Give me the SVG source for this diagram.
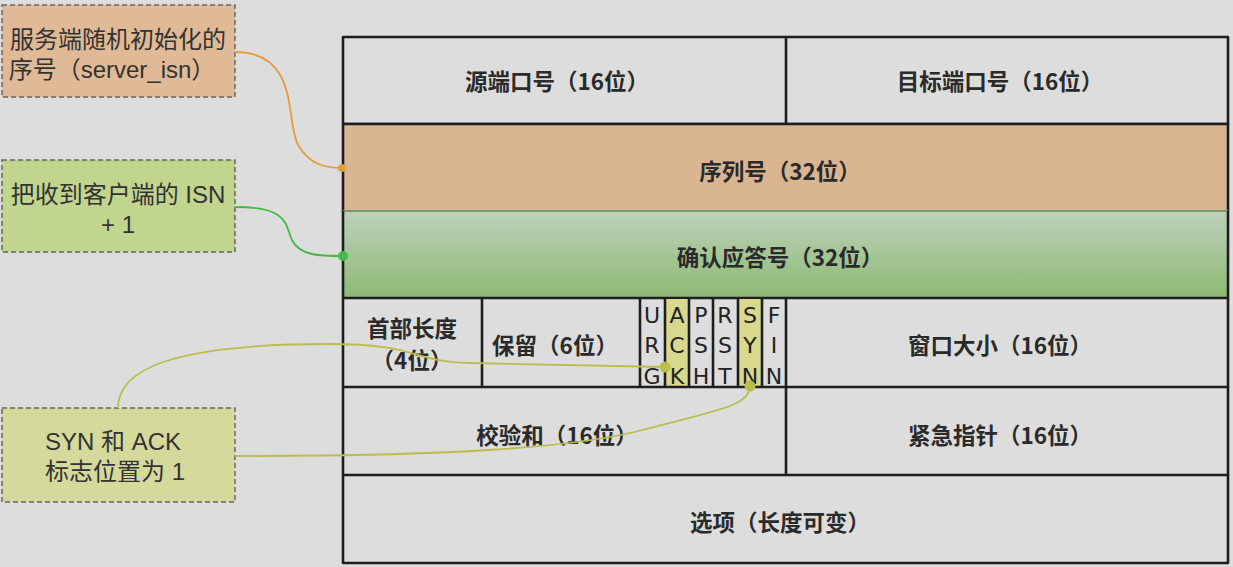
<svg xmlns="http://www.w3.org/2000/svg" width="1233" height="567" viewBox="0 0 1233 567">
<defs>
<linearGradient id="gAck" x1="0" y1="0" x2="0" y2="1">
<stop offset="0" stop-color="#bed1bb"/>
<stop offset="1" stop-color="#8cb973"/>
</linearGradient>
<style>
.cell{stroke:#1e1e1e;stroke-width:2.6;fill:none;stroke-linejoin:round}
.t{font-family:"Noto Sans CJK SC","Noto Sans",sans-serif;font-weight:bold;font-size:22.5px;fill:#2a2a2a;text-anchor:middle}
.n{font-family:"Liberation Sans","Noto Sans CJK SC",sans-serif;font-size:24px;fill:#333;text-anchor:middle}
.f{font-family:"DejaVu Sans",sans-serif;font-size:22px;fill:#222;text-anchor:middle}
.note{stroke:#666;stroke-width:1.5;stroke-dasharray:5 3}
.con{fill:none;stroke-width:1.8}
</style>
</defs>
<rect width="1233" height="567" fill="#dddddd"/>

<g id="row-ports">
<path class="cell" d="M343,37 L1228,37 L1228,124 L343,124 Z"/>
<line class="cell" x1="786" y1="37" x2="786" y2="124"/>
<text class="t" x="557" y="90">源端口号（16位）</text>
<text class="t" x="1000" y="90">目标端口号（16位）</text>
</g>

<g id="row-seq">
<rect x="343" y="124" width="885" height="87" fill="#d9b592"/>
<path class="cell" d="M343,124 L1228,124 L1228,211 M343,124 L343,211"/>
<text class="t" x="780" y="180">序列号（32位）</text>
</g>

<g id="row-ack">
<rect x="343" y="211" width="885" height="87" fill="url(#gAck)"/>
<line x1="343" y1="211" x2="1228" y2="211" stroke="#7a9a6a" stroke-width="2"/>
<path class="cell" d="M343,211 L343,298 L1228,298 L1228,211" stroke="#556b4a"/>
<text class="t" x="780" y="266">确认应答号（32位）</text>
</g>

<g id="row-flags">
<rect x="665" y="299" width="23" height="88" fill="#d8d88e"/>
<rect x="738" y="299" width="24" height="88" fill="#d8d88e"/>
<path class="cell" d="M343,298 L343,387 L1228,387 L1228,298"/>
<line class="cell" x1="482" y1="298" x2="482" y2="387"/>
<line class="cell" x1="640" y1="298" x2="640" y2="387"/>
<line class="cell" x1="665" y1="298" x2="665" y2="387"/>
<line class="cell" x1="689" y1="298" x2="689" y2="387"/>
<line class="cell" x1="713" y1="298" x2="713" y2="387"/>
<line class="cell" x1="738" y1="298" x2="738" y2="387"/>
<line class="cell" x1="762" y1="298" x2="762" y2="387"/>
<line class="cell" x1="786" y1="298" x2="786" y2="387"/>
<text class="t" x="412" y="337">首部长度</text>
<text class="t" x="412" y="369">（4位）</text>
<text class="t" x="555" y="354">保留（6位）</text>
<text class="f" x="652" y="323">U</text><text class="f" x="652" y="353">R</text><text class="f" x="652" y="384">G</text>
<text class="f" x="677" y="323">A</text><text class="f" x="677" y="353">C</text><text class="f" x="677" y="384">K</text>
<text class="f" x="701" y="323">P</text><text class="f" x="701" y="353">S</text><text class="f" x="701" y="384">H</text>
<text class="f" x="725" y="323">R</text><text class="f" x="725" y="353">S</text><text class="f" x="725" y="384">T</text>
<text class="f" x="750" y="323">S</text><text class="f" x="750" y="353">Y</text><text class="f" x="750" y="384">N</text>
<text class="f" x="774" y="323">F</text><text class="f" x="774" y="353">I</text><text class="f" x="774" y="384">N</text>
<text class="t" x="1000" y="354">窗口大小（16位）</text>
</g>

<g id="row-check">
<path class="cell" d="M343,387 L343,475 L1228,475 L1228,387"/>
<line class="cell" x1="786" y1="387" x2="786" y2="475"/>
<text class="t" x="557" y="444">校验和（16位）</text>
<text class="t" x="1000" y="444">紧急指针（16位）</text>
</g>

<g id="row-options">
<path class="cell" d="M343,475 L343,563 L1228,563 L1228,475"/>
<text class="t" x="780" y="531">选项（长度可变）</text>
</g>

<g id="note-server-isn">
<rect class="note" x="2" y="5" width="233" height="92" fill="#e0b996"/>
<text class="n" x="118" y="48">服务端随机初始化的</text>
<text class="n" x="112" y="78">序号（server_isn）</text>
</g>

<g id="note-ack">
<rect class="note" x="2" y="160" width="233" height="92" fill="#c2d58e"/>
<text class="n" x="118" y="203">把收到客户端的 ISN</text>
<text class="n" x="118" y="233">+ 1</text>
</g>

<g id="note-flags">
<rect class="note" x="2" y="408" width="233" height="94" fill="#d6d99c"/>
<text class="n" x="45" y="450" style="text-anchor:start">SYN 和 ACK</text>
<text class="n" x="45" y="480" style="text-anchor:start">标志位置为 1</text>
</g>

<g id="connectors">
<path class="con" stroke="#e69a3c" d="M235,52 C300,52 285,120 298,145 C310,165 325,168 343,168"/>
<circle cx="342" cy="168" r="4" fill="#e69a3c"/>
<path class="con" stroke="#48b848" d="M235,207 C290,207 285,225 292,240 C300,256 320,256 343,256"/>
<circle cx="343" cy="256" r="5" fill="#48b848"/>
<path class="con" stroke="#b9bd4c" d="M118,408 C118,370 170,344 330,344 C420,344 410,362 470,363 L665,367"/>
<circle cx="665" cy="367" r="5.5" fill="#b9bd4c"/>
<path class="con" stroke="#b9bd4c" d="M235,456 C450,456 580,448 650,428 C720,410 750,405 750,386"/>
<circle cx="750" cy="386" r="5.5" fill="#b9bd4c"/>
</g>
</svg>
